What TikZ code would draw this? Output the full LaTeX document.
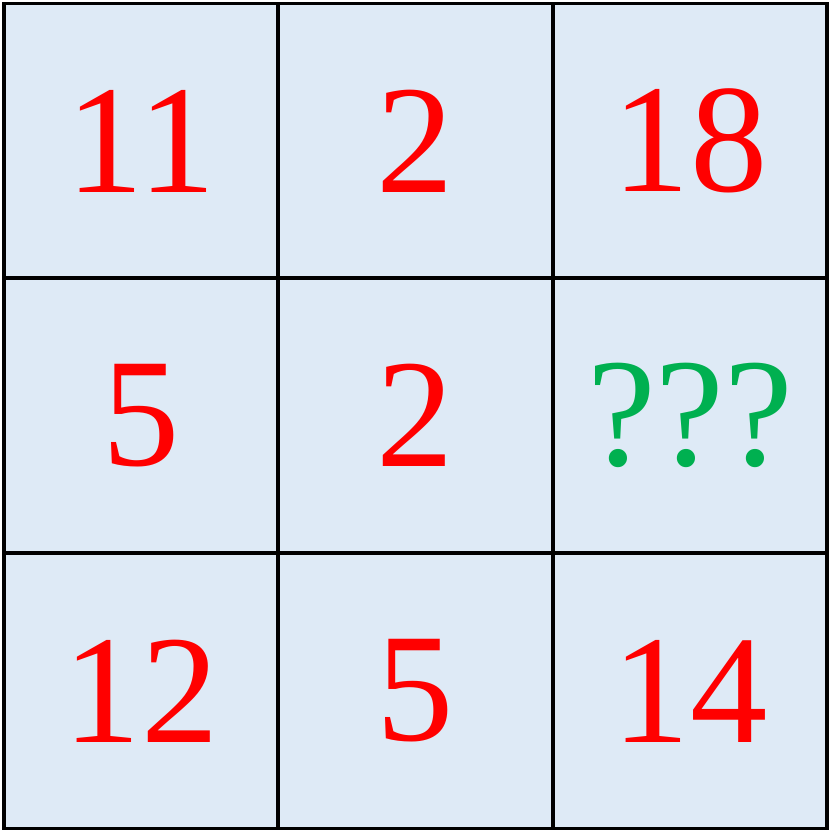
\documentclass[tikz,border=0pt]{standalone}
\usepackage{fontspec}
\setmainfont{Liberation Serif}
\definecolor{cellblue}{RGB}{222,234,246}
\definecolor{askgreen}{RGB}{0,176,80}
\tikzset{
  cell/.style={draw=black, line width=1.1pt, fill=cellblue,
    minimum width=2.745cm, minimum height=2.75cm, inner sep=0pt,
    font=\fontsize{44}{50}\selectfont, text=red},
  ask/.style={cell, text=askgreen}
}
\begin{document}
\begin{tikzpicture}
  \useasboundingbox (0,0) rectangle (8.29,8.32);
  % top row
  \node[cell] (c11) at (1.41,6.91) {11};
  \node[cell] (c12) at (4.155,6.91) {2};
  \node[cell] (c13) at (6.90,6.91) {18};
  % middle row
  \node[cell] (c21) at (1.41,4.165) {5};
  \node[cell] (c22) at (4.155,4.165) {2};
  \node[ask] (c23) at (6.90,4.165) {???};
  % bottom row
  \node[cell] (c31) at (1.41,1.41) {12};
  \node[cell] (c32) at (4.155,1.41) {5};
  \node[cell] (c33) at (6.90,1.41) {14};
\end{tikzpicture}
\end{document}
